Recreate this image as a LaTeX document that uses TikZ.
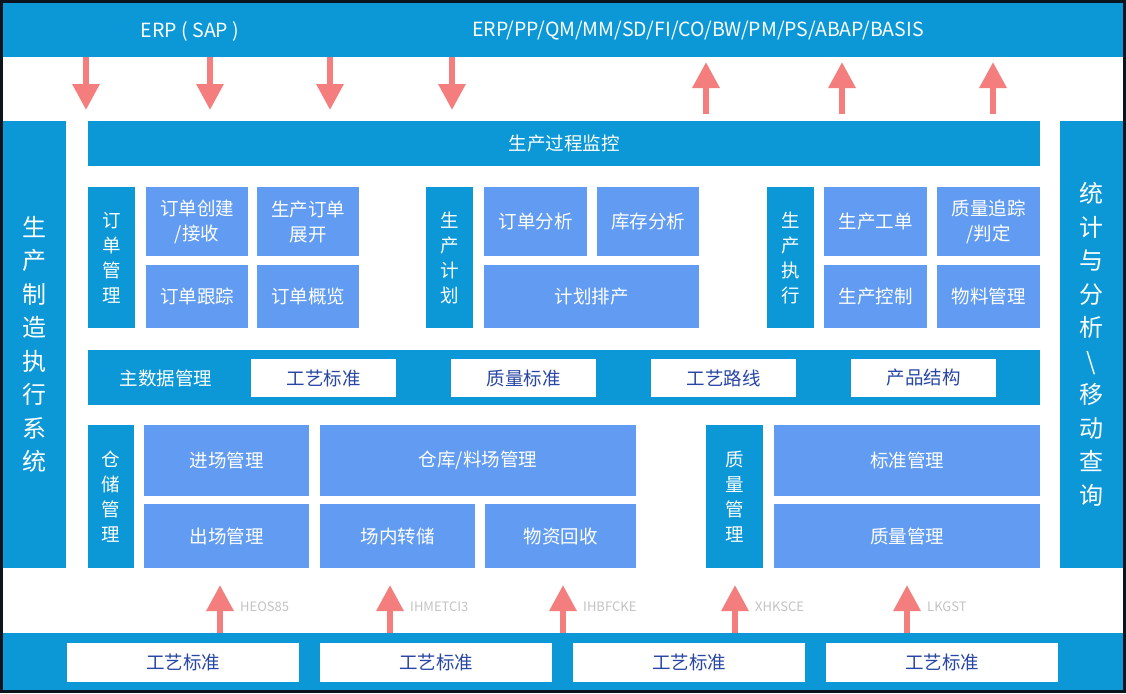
\documentclass[tikz,border=0pt]{standalone}
\usepackage{fontspec}
\setmainfont{Noto Sans CJK SC}
\usetikzlibrary{arrows.meta}
\definecolor{barblue}{RGB}{12,152,214}
\definecolor{boxblue}{RGB}{98,156,242}
\definecolor{arrowred}{RGB}{244,126,126}
\definecolor{darktext}{RGB}{40,70,165}
\definecolor{frame}{RGB}{12,20,30}
\definecolor{faint}{RGB}{195,195,195}
\tikzset{
  base/.style={inner sep=0pt, outer sep=0pt, draw=none, align=center},
  bar/.style={base, fill=barblue, text=white, font=\fontsize{18.5}{25}\selectfont},
  sidebar/.style={base, fill=barblue, text=white, font=\fontsize{24}{33.5}\selectfont},
  cell/.style={base, fill=boxblue, text=white, font=\fontsize{18.5}{25}\selectfont},
  wbox/.style={base, fill=white, text=darktext, font=\fontsize{18.5}{25}\selectfont},
  toptext/.style={text=white, font=\fontsize{19.5}{22}\selectfont, inner sep=0pt},
  flow/.style={draw=arrowred, line width=6pt, -{Triangle[width=26pt,length=26pt]}, shorten >=0pt},
  lbl/.style={text=faint, font=\fontsize{13}{14}\selectfont, inner sep=0pt, anchor=west}
}
% \bx{name}{x1}{y1}{x2}{y2}{style}{text}
\newcommand{\bx}[7]{%
  \node[#6, minimum width={(#4-#2)*1pt}, minimum height={(#5-#3)*1pt}]
    (#1) at ({(#2+#4)/2},{(#3+#5)/2}) {#7};}
\begin{document}
\begin{tikzpicture}[x=1pt,y=-1pt]
\useasboundingbox (0,0) rectangle (1126,693);
\fill[frame] (0,0) rectangle (1126,693);
\fill[white] (3,3) rectangle (1123,690);
% top bar
\bx{top}{3}{3}{1123}{57}{bar}{}
\node[toptext] (erp) at (190,31) {ERP ( SAP )};
\node[toptext] (mods) at (698,31) {ERP/PP/QM/MM/SD/FI/CO/BW/PM/PS/ABAP/BASIS};
% side bars
\bx{left}{3}{121}{66}{568}{sidebar}{生\\产\\制\\造\\执\\行\\系\\统}
\bx{right}{1060}{121}{1123}{568}{sidebar}{统\\计\\与\\分\\析\\\textbackslash\\移\\动\\查\\询}
% monitoring bar
\bx{mon}{88}{121}{1040}{166}{bar}{生产过程监控}
% group 1
\bx{ordm}{88}{187}{135}{328}{bar}{订\\单\\管\\理}
\bx{o1}{146}{187}{248}{256}{cell}{订单创建\\/接收}
\bx{o2}{257}{187}{359}{256}{cell}{生产订单\\展开}
\bx{o3}{146}{265}{248}{328}{cell}{订单跟踪}
\bx{o4}{257}{265}{359}{328}{cell}{订单概览}
% group 2
\bx{plan}{426}{187}{473}{328}{bar}{生\\产\\计\\划}
\bx{p1}{484}{187}{587}{256}{cell}{订单分析}
\bx{p2}{597}{187}{699}{256}{cell}{库存分析}
\bx{p3}{484}{265}{699}{328}{cell}{计划排产}
% group 3
\bx{exe}{767}{187}{814}{328}{bar}{生\\产\\执\\行}
\bx{e1}{824}{187}{927}{256}{cell}{生产工单}
\bx{e2}{937}{187}{1040}{256}{cell}{质量追踪\\/判定}
\bx{e3}{824}{265}{927}{328}{cell}{生产控制}
\bx{e4}{937}{265}{1040}{328}{cell}{物料管理}
% master data
\bx{md}{88}{350}{1040}{405}{bar}{}
\node[text=white, font=\fontsize{18.5}{25}\selectfont, inner sep=0pt] (mdl) at (166,378) {主数据管理};
\bx{m1}{251}{359}{396}{397}{wbox}{工艺标准}
\bx{m2}{451}{359}{596}{397}{wbox}{质量标准}
\bx{m3}{651}{359}{796}{397}{wbox}{工艺路线}
\bx{m4}{851}{359}{996}{397}{wbox}{产品结构}
% warehouse
\bx{wh}{88}{425}{134}{568}{bar}{仓\\储\\管\\理}
\bx{w1}{144}{425}{309}{496}{cell}{进场管理}
\bx{w2}{320}{425}{636}{496}{cell}{仓库/料场管理}
\bx{w3}{144}{504}{309}{568}{cell}{出场管理}
\bx{w4}{320}{504}{475}{568}{cell}{场内转储}
\bx{w5}{485}{504}{636}{568}{cell}{物资回收}
% quality
\bx{qm}{706}{425}{763}{568}{bar}{质\\量\\管\\理}
\bx{q1}{774}{425}{1040}{496}{cell}{标准管理}
\bx{q2}{774}{504}{1040}{568}{cell}{质量管理}
% bottom bar
\bx{bot}{3}{633}{1123}{690}{bar}{}
\bx{b1}{67}{643}{299}{682}{wbox}{工艺标准}
\bx{b2}{320}{643}{552}{682}{wbox}{工艺标准}
\bx{b3}{573}{643}{805}{682}{wbox}{工艺标准}
\bx{b4}{826}{643}{1058}{682}{wbox}{工艺标准}
% top arrows
\foreach \n/\x in {d1/86,d2/210,d3/330,d4/452}{
  \coordinate (\n s) at (\x,57);
  \coordinate (\n e) at (\x,110);
  \draw[flow] (\n s) -- (\n e);
}
\foreach \n/\x in {u1/706,u2/842,u3/993}{
  \coordinate (\n s) at (\x,114);
  \coordinate (\n e) at (\x,62);
  \draw[flow] (\n s) -- (\n e);
}
% bottom arrows
\foreach \n/\x/\t in {v1/220/HEOS85,v2/390/IHMETCI3,v3/563/IHBFCKE,v4/735/XHKSCE,v5/907/LKGST}{
  \coordinate (\n s) at (\x,633);
  \coordinate (\n e) at (\x,585);
  \draw[flow] (\n s) -- (\n e);
  \node[lbl] (\n l) at (\x+20,607) {\t};
}
\end{tikzpicture}
\end{document}
